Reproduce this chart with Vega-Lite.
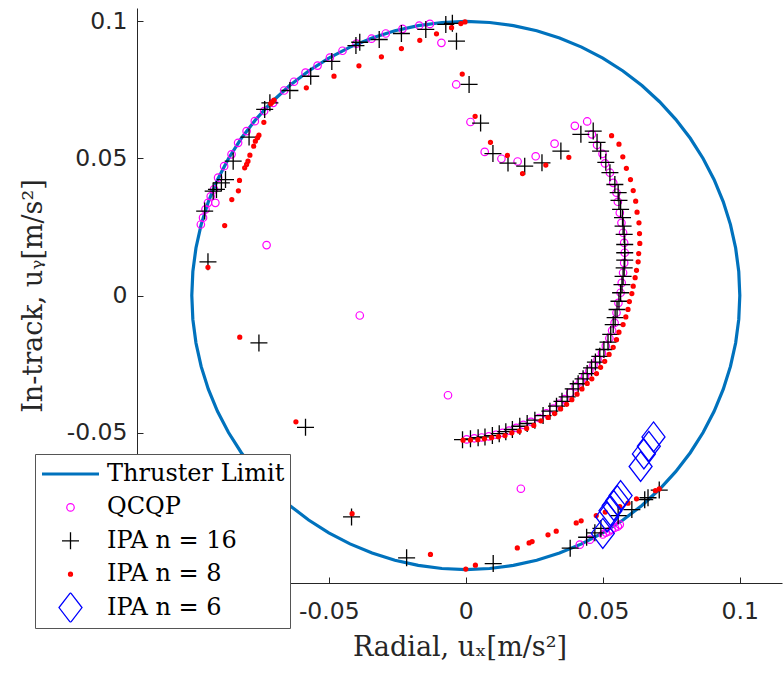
{
  "$schema": "https://vega.github.io/schema/vega-lite/v6.json",
  "width": 645,
  "height": 575,
  "autosize": {"type": "none"},
  "padding": {"left": 137, "top": 8, "right": 1, "bottom": 92},
  "config": {
    "view": {"stroke": null},
    "axis": {
      "grid": false,
      "labelFont": "DejaVu Sans",
      "labelFontSize": 23.5,
      "labelColor": "#262626",
      "titleFont": "DejaVu Serif",
      "titleFontSize": 27,
      "titleFontWeight": "normal",
      "titleColor": "#262626",
      "domainColor": "#262626",
      "tickColor": "#262626",
      "tickSize": -6,
      "domainWidth": 1,
      "tickWidth": 1
    },
    "legend": {
      "orient": "none",
      "legendX": -102,
      "legendY": 446,
      "fillColor": "white",
      "strokeColor": "#555555",
      "padding": 5,
      "clipHeight": 30,
      "rowPadding": 3.4,
      "labelFont": "DejaVu Serif",
      "labelFontSize": 24,
      "labelColor": "#000000",
      "labelOffset": 6,
      "labelLimit": 400,
      "zindex": 1
    }
  },
  "layer": [
    {
      "data": {"values": [
        {"a":0,"x":0.1,"y":0},{"a":5,"x":0.09962,"y":0.00872},{"a":10,"x":0.09848,"y":0.01736},{"a":15,"x":0.09659,"y":0.02588},{"a":20,"x":0.09397,"y":0.0342},{"a":25,"x":0.09063,"y":0.04226},{"a":30,"x":0.0866,"y":0.05},{"a":35,"x":0.08192,"y":0.05736},{"a":40,"x":0.0766,"y":0.06428},{"a":45,"x":0.07071,"y":0.07071},{"a":50,"x":0.06428,"y":0.0766},{"a":55,"x":0.05736,"y":0.08192},{"a":60,"x":0.05,"y":0.0866},{"a":65,"x":0.04226,"y":0.09063},{"a":70,"x":0.0342,"y":0.09397},{"a":75,"x":0.02588,"y":0.09659},{"a":80,"x":0.01736,"y":0.09848},{"a":85,"x":0.00872,"y":0.09962},
        {"a":90,"x":0,"y":0.1},{"a":95,"x":-0.00872,"y":0.09962},{"a":100,"x":-0.01736,"y":0.09848},{"a":105,"x":-0.02588,"y":0.09659},{"a":110,"x":-0.0342,"y":0.09397},{"a":115,"x":-0.04226,"y":0.09063},{"a":120,"x":-0.05,"y":0.0866},{"a":125,"x":-0.05736,"y":0.08192},{"a":130,"x":-0.06428,"y":0.0766},{"a":135,"x":-0.07071,"y":0.07071},{"a":140,"x":-0.0766,"y":0.06428},{"a":145,"x":-0.08192,"y":0.05736},{"a":150,"x":-0.0866,"y":0.05},{"a":155,"x":-0.09063,"y":0.04226},{"a":160,"x":-0.09397,"y":0.0342},{"a":165,"x":-0.09659,"y":0.02588},{"a":170,"x":-0.09848,"y":0.01736},{"a":175,"x":-0.09962,"y":0.00872},
        {"a":180,"x":-0.1,"y":0},{"a":185,"x":-0.09962,"y":-0.00872},{"a":190,"x":-0.09848,"y":-0.01736},{"a":195,"x":-0.09659,"y":-0.02588},{"a":200,"x":-0.09397,"y":-0.0342},{"a":205,"x":-0.09063,"y":-0.04226},{"a":210,"x":-0.0866,"y":-0.05},{"a":215,"x":-0.08192,"y":-0.05736},{"a":220,"x":-0.0766,"y":-0.06428},{"a":225,"x":-0.07071,"y":-0.07071},{"a":230,"x":-0.06428,"y":-0.0766},{"a":235,"x":-0.05736,"y":-0.08192},{"a":240,"x":-0.05,"y":-0.0866},{"a":245,"x":-0.04226,"y":-0.09063},{"a":250,"x":-0.0342,"y":-0.09397},{"a":255,"x":-0.02588,"y":-0.09659},{"a":260,"x":-0.01736,"y":-0.09848},{"a":265,"x":-0.00872,"y":-0.09962},
        {"a":270,"x":0,"y":-0.1},{"a":275,"x":0.00872,"y":-0.09962},{"a":280,"x":0.01736,"y":-0.09848},{"a":285,"x":0.02588,"y":-0.09659},{"a":290,"x":0.0342,"y":-0.09397},{"a":295,"x":0.04226,"y":-0.09063},{"a":300,"x":0.05,"y":-0.0866},{"a":305,"x":0.05736,"y":-0.08192},{"a":310,"x":0.06428,"y":-0.0766},{"a":315,"x":0.07071,"y":-0.07071},{"a":320,"x":0.0766,"y":-0.06428},{"a":325,"x":0.08192,"y":-0.05736},{"a":330,"x":0.0866,"y":-0.05},{"a":335,"x":0.09063,"y":-0.04226},{"a":340,"x":0.09397,"y":-0.0342},{"a":345,"x":0.09659,"y":-0.02588},{"a":350,"x":0.09848,"y":-0.01736},{"a":355,"x":0.09962,"y":-0.00872},{"a":360,"x":0.1,"y":0}
      ]},
      "mark": {"type": "line", "strokeWidth": 3.2, "clip": true},
      "encoding": {
        "x": {"field": "x", "type": "quantitative", "scale": {"domain": [-0.12, 0.1154], "nice": false, "zero": false},
              "axis": {"values": [-0.05, 0, 0.05, 0.1], "format": "~g", "labelExpr": "replace(datum.label, '−', '-')", "title": "Radial, uₓ[m/s²]", "labelPadding": 22, "titlePadding": 12}},
        "y": {"field": "y", "type": "quantitative", "scale": {"domain": [-0.1049, 0.1049], "nice": false, "zero": false},
              "axis": {"values": [-0.05, 0, 0.05, 0.1], "format": "~g", "labelExpr": "replace(datum.label, '−', '-')", "title": "In-track, uᵧ[m/s²]", "labelPadding": 16, "titlePadding": 19}},
        "order": {"field": "a", "type": "quantitative"},
        "color": {"datum": "Thruster Limit", "type": "nominal",
                  "scale": {"domain": ["Thruster Limit", "QCQP", "IPA n = 16", "IPA n = 8", "IPA n = 6"], "range": ["#0072BD", "#FF00FF", "#000000", "#FF0000", "#0000FF"]},
                  "legend": {"title": null, "labelFont": "DejaVu Serif", "labelFontSize": 24}}
      }
    },
    {
      "data": {"values": [
        {"s":"QCQP","x":-0.0967,"y":0.0259},{"s":"QCQP","x":-0.0959,"y":0.0284},{"s":"QCQP","x":-0.095,"y":0.0314},{"s":"QCQP","x":-0.0941,"y":0.0338},{"s":"QCQP","x":-0.0931,"y":0.0362},{"s":"QCQP","x":-0.0914,"y":0.0338},{"s":"QCQP","x":-0.0919,"y":0.0387},{"s":"QCQP","x":-0.0904,"y":0.043},{"s":"QCQP","x":-0.0882,"y":0.0472},{"s":"QCQP","x":-0.0855,"y":0.0515},{"s":"QCQP","x":-0.0831,"y":0.0557},{"s":"QCQP","x":-0.08,"y":0.06},{"s":"QCQP","x":-0.077,"y":0.0636},{"s":"QCQP","x":-0.0736,"y":0.0673},{"s":"QCQP","x":-0.0703,"y":0.0703},{"s":"QCQP","x":-0.0663,"y":0.0748},{"s":"QCQP","x":-0.0627,"y":0.078},{"s":"QCQP","x":-0.0585,"y":0.0813},{"s":"QCQP","x":-0.0541,"y":0.0839},{"s":"QCQP","x":-0.0496,"y":0.0868},{"s":"QCQP","x":-0.045,"y":0.0893},{"s":"QCQP","x":-0.0399,"y":0.0919},{"s":"QCQP","x":-0.0344,"y":0.0937},{"s":"QCQP","x":-0.0292,"y":0.0956},{"s":"QCQP","x":-0.0231,"y":0.0973},{"s":"QCQP","x":-0.017,"y":0.0985},{"s":"QCQP","x":-0.0131,"y":0.0991},
        {"s":"QCQP","x":-0.0089,"y":0.0922},{"s":"QCQP","x":-0.0035,"y":0.077},{"s":"QCQP","x":0.0017,"y":0.0633},{"s":"QCQP","x":0.0069,"y":0.0524},{"s":"QCQP","x":0.013,"y":0.0499},{"s":"QCQP","x":0.0189,"y":0.0489},{"s":"QCQP","x":0.0255,"y":0.0508},{"s":"QCQP","x":0.0324,"y":0.0554},{"s":"QCQP","x":0.0398,"y":0.0619},{"s":"QCQP","x":0.0443,"y":0.0635},
        {"s":"QCQP","x":0.046,"y":0.0588},{"s":"QCQP","x":0.0479,"y":0.0549},{"s":"QCQP","x":0.0499,"y":0.0517},{"s":"QCQP","x":0.0508,"y":0.0482},{"s":"QCQP","x":0.0526,"y":0.0448},{"s":"QCQP","x":0.0538,"y":0.0411},{"s":"QCQP","x":0.055,"y":0.0375},{"s":"QCQP","x":0.0555,"y":0.0342},{"s":"QCQP","x":0.0562,"y":0.0302},{"s":"QCQP","x":0.0568,"y":0.0265},{"s":"QCQP","x":0.0574,"y":0.0229},{"s":"QCQP","x":0.0578,"y":0.0192},{"s":"QCQP","x":0.058,"y":0.0156},{"s":"QCQP","x":0.0578,"y":0.0119},{"s":"QCQP","x":0.0574,"y":0.0083},{"s":"QCQP","x":0.0569,"y":0.0046},{"s":"QCQP","x":0.0565,"y":0.001},{"s":"QCQP","x":0.0557,"y":-0.0027},{"s":"QCQP","x":0.055,"y":-0.0063},{"s":"QCQP","x":0.0543,"y":-0.01},
        {"s":"QCQP","x":0.0534,"y":-0.0128},{"s":"QCQP","x":0.0524,"y":-0.0156},{"s":"QCQP","x":0.0511,"y":-0.0184},{"s":"QCQP","x":0.0497,"y":-0.021},{"s":"QCQP","x":0.0481,"y":-0.0233},{"s":"QCQP","x":0.0466,"y":-0.0254},{"s":"QCQP","x":0.0451,"y":-0.0275},{"s":"QCQP","x":0.0435,"y":-0.0295},{"s":"QCQP","x":0.0419,"y":-0.0313},{"s":"QCQP","x":0.0401,"y":-0.0332},{"s":"QCQP","x":0.0381,"y":-0.0355},{"s":"QCQP","x":0.036,"y":-0.0378},{"s":"QCQP","x":0.0341,"y":-0.0395},{"s":"QCQP","x":0.0319,"y":-0.0413},{"s":"QCQP","x":0.0294,"y":-0.043},{"s":"QCQP","x":0.0267,"y":-0.0447},{"s":"QCQP","x":0.0238,"y":-0.0461},{"s":"QCQP","x":0.021,"y":-0.0472},{"s":"QCQP","x":0.0184,"y":-0.0483},{"s":"QCQP","x":0.0158,"y":-0.0493},{"s":"QCQP","x":0.0134,"y":-0.0501},{"s":"QCQP","x":0.011,"y":-0.0508},{"s":"QCQP","x":0.0084,"y":-0.0514},{"s":"QCQP","x":0.0058,"y":-0.0518},{"s":"QCQP","x":0.0031,"y":-0.0521},{"s":"QCQP","x":0.0003,"y":-0.0525},
        {"s":"QCQP","x":-0.0727,"y":0.0184},{"s":"QCQP","x":-0.0387,"y":-0.0073},{"s":"QCQP","x":-0.0065,"y":-0.0364},{"s":"QCQP","x":0.0201,"y":-0.0705},{"s":"QCQP","x":0.0416,"y":-0.0909},{"s":"QCQP","x":0.0453,"y":-0.0891},{"s":"QCQP","x":0.05,"y":-0.0872},{"s":"QCQP","x":0.0511,"y":-0.0865},{"s":"QCQP","x":0.0522,"y":-0.0861},{"s":"QCQP","x":0.0533,"y":-0.0854},{"s":"QCQP","x":0.0544,"y":-0.0847},{"s":"QCQP","x":0.0555,"y":-0.0843},{"s":"QCQP","x":0.0562,"y":-0.0836},
        {"s":"IPA n = 16","x":-0.0953,"y":0.0308},{"s":"IPA n = 16","x":-0.0941,"y":0.0123},{"s":"IPA n = 16","x":-0.0922,"y":0.0381},{"s":"IPA n = 16","x":-0.091,"y":0.0387},{"s":"IPA n = 16","x":-0.0892,"y":0.0411},{"s":"IPA n = 16","x":-0.0877,"y":0.0423},{"s":"IPA n = 16","x":-0.0849,"y":0.049},{"s":"IPA n = 16","x":-0.0791,"y":0.0578},{"s":"IPA n = 16","x":-0.0734,"y":0.0679},{"s":"IPA n = 16","x":-0.0715,"y":0.0703},{"s":"IPA n = 16","x":-0.0642,"y":0.0748},{"s":"IPA n = 16","x":-0.0566,"y":0.08},{"s":"IPA n = 16","x":-0.0489,"y":0.0854},{"s":"IPA n = 16","x":-0.0401,"y":0.0912},{"s":"IPA n = 16","x":-0.0387,"y":0.0924},{"s":"IPA n = 16","x":-0.0316,"y":0.0934},{"s":"IPA n = 16","x":-0.0235,"y":0.0956},{"s":"IPA n = 16","x":-0.0146,"y":0.0971},{"s":"IPA n = 16","x":-0.0073,"y":0.0989},{"s":"IPA n = 16","x":-0.0049,"y":0.0993},
        {"s":"IPA n = 16","x":-0.0034,"y":0.0928},{"s":"IPA n = 16","x":0.0012,"y":0.077},{"s":"IPA n = 16","x":0.0054,"y":0.0629},{"s":"IPA n = 16","x":0.0099,"y":0.0518},{"s":"IPA n = 16","x":0.0154,"y":0.0483},{"s":"IPA n = 16","x":0.0215,"y":0.0472},{"s":"IPA n = 16","x":0.0278,"y":0.0484},{"s":"IPA n = 16","x":0.0347,"y":0.0527},{"s":"IPA n = 16","x":0.042,"y":0.0588},{"s":"IPA n = 16","x":0.0465,"y":0.06},
        {"s":"IPA n = 16","x":0.0479,"y":0.0559},{"s":"IPA n = 16","x":0.0492,"y":0.0527},{"s":"IPA n = 16","x":0.0511,"y":0.0486},{"s":"IPA n = 16","x":0.0526,"y":0.0448},{"s":"IPA n = 16","x":0.0544,"y":0.0405},{"s":"IPA n = 16","x":0.0556,"y":0.0375},{"s":"IPA n = 16","x":0.0559,"y":0.0347},{"s":"IPA n = 16","x":0.0565,"y":0.0314},{"s":"IPA n = 16","x":0.0572,"y":0.0284},{"s":"IPA n = 16","x":0.0574,"y":0.0253},{"s":"IPA n = 16","x":0.0578,"y":0.0223},{"s":"IPA n = 16","x":0.058,"y":0.0186},{"s":"IPA n = 16","x":0.058,"y":0.0156},{"s":"IPA n = 16","x":0.058,"y":0.0129},{"s":"IPA n = 16","x":0.0578,"y":0.0101},{"s":"IPA n = 16","x":0.0574,"y":0.007},{"s":"IPA n = 16","x":0.057,"y":0.004},{"s":"IPA n = 16","x":0.0565,"y":0.001},{"s":"IPA n = 16","x":0.0559,"y":-0.0021},{"s":"IPA n = 16","x":0.0552,"y":-0.0051},{"s":"IPA n = 16","x":0.0545,"y":-0.0081},{"s":"IPA n = 16","x":0.0538,"y":-0.0106},
        {"s":"IPA n = 16","x":0.0529,"y":-0.0142},{"s":"IPA n = 16","x":0.0519,"y":-0.017},{"s":"IPA n = 16","x":0.0504,"y":-0.0197},{"s":"IPA n = 16","x":0.0489,"y":-0.0222},{"s":"IPA n = 16","x":0.0473,"y":-0.0243},{"s":"IPA n = 16","x":0.0459,"y":-0.0264},{"s":"IPA n = 16","x":0.0443,"y":-0.0285},{"s":"IPA n = 16","x":0.0428,"y":-0.0304},{"s":"IPA n = 16","x":0.041,"y":-0.0322},{"s":"IPA n = 16","x":0.0392,"y":-0.0341},{"s":"IPA n = 16","x":0.037,"y":-0.037},{"s":"IPA n = 16","x":0.0351,"y":-0.0386},{"s":"IPA n = 16","x":0.0331,"y":-0.0404},{"s":"IPA n = 16","x":0.0307,"y":-0.0422},{"s":"IPA n = 16","x":0.0282,"y":-0.0438},{"s":"IPA n = 16","x":0.0252,"y":-0.0455},{"s":"IPA n = 16","x":0.0224,"y":-0.0467},{"s":"IPA n = 16","x":0.0197,"y":-0.0477},{"s":"IPA n = 16","x":0.017,"y":-0.0489},{"s":"IPA n = 16","x":0.0146,"y":-0.0497},{"s":"IPA n = 16","x":0.0122,"y":-0.0504},{"s":"IPA n = 16","x":0.0097,"y":-0.0511},{"s":"IPA n = 16","x":0.007,"y":-0.0516},{"s":"IPA n = 16","x":0.0045,"y":-0.0519},{"s":"IPA n = 16","x":0.0017,"y":-0.0523},{"s":"IPA n = 16","x":-0.0012,"y":-0.0526},
        {"s":"IPA n = 16","x":-0.0755,"y":-0.0173},{"s":"IPA n = 16","x":-0.0585,"y":-0.0481},{"s":"IPA n = 16","x":-0.0417,"y":-0.0808},{"s":"IPA n = 16","x":-0.0216,"y":-0.0957},{"s":"IPA n = 16","x":0.01,"y":-0.0978},{"s":"IPA n = 16","x":0.0381,"y":-0.0922},{"s":"IPA n = 16","x":0.0441,"y":-0.0882},{"s":"IPA n = 16","x":0.0471,"y":-0.0866},{"s":"IPA n = 16","x":0.0493,"y":-0.085},{"s":"IPA n = 16","x":0.0556,"y":-0.0803},{"s":"IPA n = 16","x":0.0606,"y":-0.0781},{"s":"IPA n = 16","x":0.0653,"y":-0.0745},{"s":"IPA n = 16","x":0.0665,"y":-0.0738},{"s":"IPA n = 16","x":0.0706,"y":-0.071},
        {"s":"IPA n = 8","x":-0.0941,"y":0.0103},{"s":"IPA n = 8","x":-0.088,"y":0.0255},{"s":"IPA n = 8","x":-0.0854,"y":0.035},{"s":"IPA n = 8","x":-0.083,"y":0.0382},{"s":"IPA n = 8","x":-0.0826,"y":0.042},{"s":"IPA n = 8","x":-0.0807,"y":0.0466},{"s":"IPA n = 8","x":-0.08,"y":0.0478},{"s":"IPA n = 8","x":-0.0795,"y":0.049},{"s":"IPA n = 8","x":-0.0788,"y":0.0512},{"s":"IPA n = 8","x":-0.0774,"y":0.0545},{"s":"IPA n = 8","x":-0.0768,"y":0.0563},{"s":"IPA n = 8","x":-0.076,"y":0.0576},{"s":"IPA n = 8","x":-0.0755,"y":0.0585},{"s":"IPA n = 8","x":-0.0737,"y":0.0632},{"s":"IPA n = 8","x":-0.0712,"y":0.07},{"s":"IPA n = 8","x":-0.0707,"y":0.0705},{"s":"IPA n = 8","x":-0.07,"y":0.0713},{"s":"IPA n = 8","x":-0.0582,"y":0.0758},{"s":"IPA n = 8","x":-0.0481,"y":0.08},{"s":"IPA n = 8","x":-0.039,"y":0.0838},{"s":"IPA n = 8","x":-0.0308,"y":0.0871},{"s":"IPA n = 8","x":-0.0235,"y":0.0901},{"s":"IPA n = 8","x":-0.0168,"y":0.0931},{"s":"IPA n = 8","x":-0.0107,"y":0.0955},{"s":"IPA n = 8","x":-0.0052,"y":0.0977},{"s":"IPA n = 8","x":-0.0018,"y":0.0992},{"s":"IPA n = 8","x":-0.0003,"y":0.0998},
        {"s":"IPA n = 8","x":-0.0013,"y":0.0808},{"s":"IPA n = 8","x":0.0034,"y":0.0654},{"s":"IPA n = 8","x":0.009,"y":0.0559},{"s":"IPA n = 8","x":0.0152,"y":0.0511},{"s":"IPA n = 8","x":0.0207,"y":0.0445},{"s":"IPA n = 8","x":0.0292,"y":0.0476},{"s":"IPA n = 8","x":0.0376,"y":0.0504},
        {"s":"IPA n = 8","x":0.0532,"y":0.0583},{"s":"IPA n = 8","x":0.0559,"y":0.0552},{"s":"IPA n = 8","x":0.0573,"y":0.0506},{"s":"IPA n = 8","x":0.0586,"y":0.0464},{"s":"IPA n = 8","x":0.0601,"y":0.0423},{"s":"IPA n = 8","x":0.0611,"y":0.0383},{"s":"IPA n = 8","x":0.062,"y":0.0344},{"s":"IPA n = 8","x":0.0625,"y":0.0304},{"s":"IPA n = 8","x":0.0632,"y":0.0265},{"s":"IPA n = 8","x":0.0634,"y":0.0226},{"s":"IPA n = 8","x":0.0635,"y":0.019},{"s":"IPA n = 8","x":0.0631,"y":0.0153},{"s":"IPA n = 8","x":0.0629,"y":0.0123},{"s":"IPA n = 8","x":0.0623,"y":0.0092},{"s":"IPA n = 8","x":0.0618,"y":0.0065},{"s":"IPA n = 8","x":0.0611,"y":0.0034},{"s":"IPA n = 8","x":0.0606,"y":0.0007},{"s":"IPA n = 8","x":0.0597,"y":-0.0022},{"s":"IPA n = 8","x":0.0592,"y":-0.0051},{"s":"IPA n = 8","x":0.0584,"y":-0.0078},{"s":"IPA n = 8","x":0.0574,"y":-0.0106},
        {"s":"IPA n = 8","x":0.0559,"y":-0.0134},{"s":"IPA n = 8","x":0.055,"y":-0.0161},{"s":"IPA n = 8","x":0.0538,"y":-0.0189},{"s":"IPA n = 8","x":0.0523,"y":-0.0215},{"s":"IPA n = 8","x":0.0507,"y":-0.024},{"s":"IPA n = 8","x":0.0492,"y":-0.0262},{"s":"IPA n = 8","x":0.0477,"y":-0.0285},{"s":"IPA n = 8","x":0.046,"y":-0.0304},{"s":"IPA n = 8","x":0.0443,"y":-0.0321},{"s":"IPA n = 8","x":0.0424,"y":-0.0341},{"s":"IPA n = 8","x":0.0406,"y":-0.036},{"s":"IPA n = 8","x":0.0387,"y":-0.038},{"s":"IPA n = 8","x":0.0368,"y":-0.0397},{"s":"IPA n = 8","x":0.0346,"y":-0.0414},{"s":"IPA n = 8","x":0.0324,"y":-0.0431},{"s":"IPA n = 8","x":0.03,"y":-0.0445},{"s":"IPA n = 8","x":0.0274,"y":-0.0457},{"s":"IPA n = 8","x":0.0248,"y":-0.0474},{"s":"IPA n = 8","x":0.0222,"y":-0.0485},{"s":"IPA n = 8","x":0.0195,"y":-0.0495},{"s":"IPA n = 8","x":0.0168,"y":-0.0501},{"s":"IPA n = 8","x":0.0143,"y":-0.0511},{"s":"IPA n = 8","x":0.0119,"y":-0.0515},{"s":"IPA n = 8","x":0.0094,"y":-0.0519},{"s":"IPA n = 8","x":0.0068,"y":-0.0523},{"s":"IPA n = 8","x":0.0044,"y":-0.0526},{"s":"IPA n = 8","x":0.0017,"y":-0.0527},{"s":"IPA n = 8","x":-0.001,"y":-0.0528},
        {"s":"IPA n = 8","x":-0.0825,"y":-0.0152},{"s":"IPA n = 8","x":-0.062,"y":-0.0461},{"s":"IPA n = 8","x":-0.0415,"y":-0.0796},{"s":"IPA n = 8","x":-0.0129,"y":-0.0945},{"s":"IPA n = 8","x":0,"y":-0.0998},{"s":"IPA n = 8","x":0.0035,"y":-0.0984},{"s":"IPA n = 8","x":0.0188,"y":-0.0921},{"s":"IPA n = 8","x":0.0231,"y":-0.0903},{"s":"IPA n = 8","x":0.0242,"y":-0.0898},{"s":"IPA n = 8","x":0.03,"y":-0.0873},{"s":"IPA n = 8","x":0.033,"y":-0.086},{"s":"IPA n = 8","x":0.0403,"y":-0.083},{"s":"IPA n = 8","x":0.0421,"y":-0.0822},{"s":"IPA n = 8","x":0.0476,"y":-0.0803},{"s":"IPA n = 8","x":0.0509,"y":-0.079},{"s":"IPA n = 8","x":0.0562,"y":-0.077},{"s":"IPA n = 8","x":0.0592,"y":-0.0758},{"s":"IPA n = 8","x":0.0623,"y":-0.0742},{"s":"IPA n = 8","x":0.0692,"y":-0.0712},{"s":"IPA n = 8","x":0.0706,"y":-0.0706},
        {"s":"IPA n = 6","x":0.0685,"y":-0.0516},{"s":"IPA n = 6","x":0.0668,"y":-0.055},{"s":"IPA n = 6","x":0.065,"y":-0.0578},{"s":"IPA n = 6","x":0.0638,"y":-0.0624},{"s":"IPA n = 6","x":0.0565,"y":-0.073},{"s":"IPA n = 6","x":0.0553,"y":-0.0748},{"s":"IPA n = 6","x":0.054,"y":-0.0766},{"s":"IPA n = 6","x":0.0528,"y":-0.0785},{"s":"IPA n = 6","x":0.0516,"y":-0.0808},{"s":"IPA n = 6","x":0.05,"y":-0.0868}
      ]},
      "mark": {"type": "point", "filled": false, "opacity": 1, "clip": true},
      "encoding": {
        "x": {"field": "x", "type": "quantitative"},
        "y": {"field": "y", "type": "quantitative"},
        "color": {"field": "s", "type": "nominal", "legend": {"title": null, "labelFont": "DejaVu Serif", "labelFontSize": 24},
                  "scale": {"domain": ["Thruster Limit", "QCQP", "IPA n = 16", "IPA n = 8", "IPA n = 6"], "range": ["#0072BD", "#FF00FF", "#000000", "#FF0000", "#0000FF"]}},
        "shape": {"field": "s", "type": "nominal", "legend": {"title": null, "labelFont": "DejaVu Serif", "labelFontSize": 24},
                  "scale": {"domain": ["Thruster Limit", "QCQP", "IPA n = 16", "IPA n = 8", "IPA n = 6"], "range": ["stroke", "circle", "M-1,0H1M0,-1V1", "circle", "M0,-1.3L1,0L0,1.3L-1,0Z"]}},
        "size": {"field": "s", "type": "nominal", "legend": {"title": null, "labelFont": "DejaVu Serif", "labelFontSize": 24},
                 "scale": {"type": "ordinal", "domain": ["Thruster Limit", "QCQP", "IPA n = 16", "IPA n = 8", "IPA n = 6"], "range": [3249, 56, 289, 6, 529]}},
        "strokeWidth": {"field": "s", "type": "nominal", "legend": {"title": null, "labelFont": "DejaVu Serif", "labelFontSize": 24},
                 "scale": {"type": "ordinal", "domain": ["Thruster Limit", "QCQP", "IPA n = 16", "IPA n = 8", "IPA n = 6"], "range": [3.2, 1.2, 1.3, 2.8, 1.3]}}
      }
    }
  ]
}
